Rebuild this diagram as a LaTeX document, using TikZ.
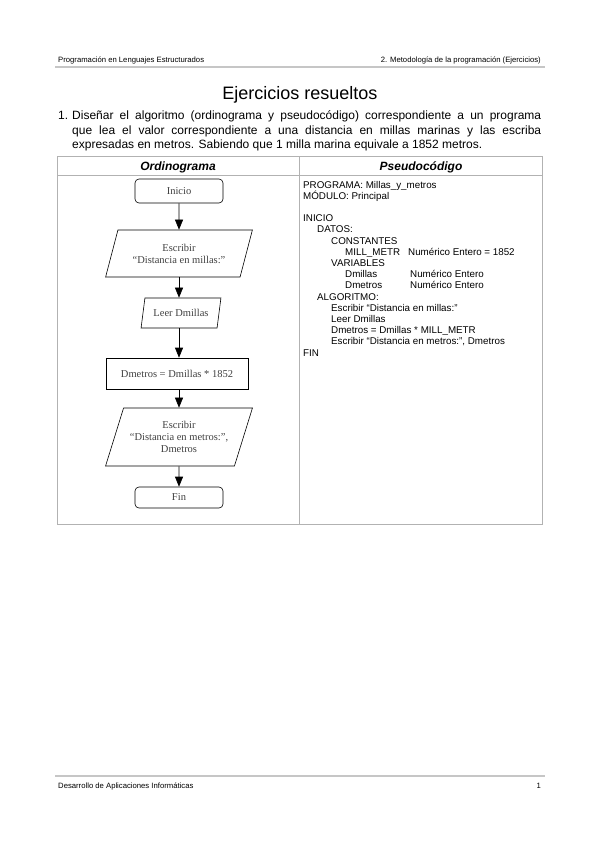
\documentclass[tikz,border=0pt]{standalone}
\usepackage{fontspec}
\setmainfont{Liberation Sans}
\newfontfamily\flowfont[Ligatures=TeX]{Liberation Serif}
\usetikzlibrary{shapes.geometric, arrows.meta, positioning, calc}

\begin{document}
\begin{tikzpicture}[x=1pt, y=-1pt,
    txt/.style={inner sep=0pt, anchor=base west},
    rule/.style={draw=gray!45, line width=1.2pt},
    grid/.style={draw=gray!60, line width=0.8pt},
    box/.style={draw=black, line width=0.6pt, fill=white, font=\flowfont\fontsize{10.5}{12}\selectfont, text=black!75, align=center, inner sep=1pt},
    term/.style={box, rounded corners=4pt, minimum width=88pt},
    proc/.style={box, minimum width=142pt, minimum height=31pt},
    io/.style={box, trapezium, trapezium stretches=true},
    flow/.style={-{Triangle[length=10pt, width=8pt]}, semithick, black}]

    % Page frame
    \useasboundingbox (0,0) rectangle (599,848);
    \fill[white] (0,0) rectangle (599,848);

    % Running head
    \node[txt, font=\fontsize{7.7}{9}\selectfont] (headl) at (58,63) {Programación en Lenguajes Estructurados};
    \node[inner sep=0pt, anchor=base east, font=\fontsize{7.7}{9}\selectfont] (headr) at (541,63) {2. Metodología de la programación (Ejercicios)};
    \draw[rule] (55,67) -- (545,67);

    % Title and statement
    \node[inner sep=0pt, anchor=base, font=\fontsize{18}{21}\selectfont] (title) at (300,100) {Ejercicios resueltos};
    \node[txt, font=\fontsize{12}{14}\selectfont] (num) at (58,120) {1.};
    \node[txt, font=\fontsize{12}{14}\selectfont] (line1) at (72,120)
        {\makebox[469pt][s]{Diseñar el algoritmo (ordinograma y pseudocódigo) correspondiente a un programa}};
    \node[txt, font=\fontsize{12}{14}\selectfont] (line2) at (72,134.5)
        {\makebox[469pt][s]{que lea el valor correspondiente a una distancia en millas marinas y las escriba}};
    \node[txt, font=\fontsize{12}{14}\selectfont] (line3) at (72,149)
        {expresadas en metros. Sabiendo que 1 milla marina equivale a 1852 metros.};

    % Table
    \draw[grid] (57,156) rectangle (542,524);
    \draw[grid] (57,175) -- (542,175);
    \draw[grid] (299,156) -- (299,524);
    \node[inner sep=0pt, anchor=base, font=\fontsize{12}{14}\bfseries\itshape] (ordhead) at (178,170) {Ordinograma};
    \node[inner sep=0pt, anchor=base, font=\fontsize{12}{14}\bfseries\itshape] (pshead) at (421,170) {Pseudocódigo};

    % Ordinogram
    \node[term, minimum height=24pt] (ini) at (179,191) {Inicio};
    \node[io, trapezium left angle=66, trapezium right angle=114, minimum width=147pt, minimum height=47pt] (esc1) at (179,253.5)
        {Escribir\\``Distancia en millas:''};
    \node[io, trapezium left angle=72, trapezium right angle=108, minimum width=80pt, minimum height=30pt] (leer) at (181,313)
        {Leer Dmillas};
    \node[proc] (calc) at (177,373.5) {Dmetros = Dmillas * 1852};
    \node[io, trapezium left angle=64, trapezium right angle=116, minimum width=147pt, minimum height=58pt] (esc2) at (179,437)
        {Escribir\\``Distancia en metros:'',\\Dmetros};
    \node[term, minimum height=21pt] (fin) at (179,497.5) {Fin};

    \draw[flow] (ini) -- (esc1);
    \draw[flow] (esc1.south) -- (esc1.south |- leer.north);
    \draw[flow] (leer.south -| esc1.south) -- (esc1.south |- calc.north);
    \draw[flow] (calc.south -| esc1.south) -- (esc1.south |- esc2.north);
    \draw[flow] (esc2) -- (fin);

    % Pseudocode
    \foreach \px/\py/\ptext [count=\i] in {
        303/188/{PROGRAMA: Millas\_y\_metros},
        303/199.2/{MÓDULO: Principal},
        303/221.6/{INICIO},
        317/232.8/{DATOS:},
        331/244/{CONSTANTES},
        345/255.2/{MILL\_METR},
        408/255.2/{Numérico Entero = 1852},
        331/266.4/{VARIABLES},
        345/277.6/{Dmillas},
        410/277.6/{Numérico Entero},
        345/288.8/{Dmetros},
        410/288.8/{Numérico Entero},
        317/300/{ALGORITMO:},
        331/311.2/{Escribir ``Distancia en millas:''},
        331/322.4/{Leer Dmillas},
        331/333.6/{Dmetros = Dmillas * MILL\_METR},
        331/344.8/{Escribir ``Distancia en metros:'', Dmetros},
        303/356/{FIN}}
        \node[txt, font=\fontsize{9.8}{11}\selectfont] (ps\i) at (\px,\py) {\ptext};

    % Running foot
    \draw[rule] (55,776) -- (545,776);
    \node[txt, font=\fontsize{7.7}{9}\selectfont] (footl) at (58,788) {Desarrollo de Aplicaciones Informáticas};
    \node[inner sep=0pt, anchor=base east, font=\fontsize{7.7}{9}\selectfont] (footr) at (541,788) {1};

\end{tikzpicture}
\end{document}
